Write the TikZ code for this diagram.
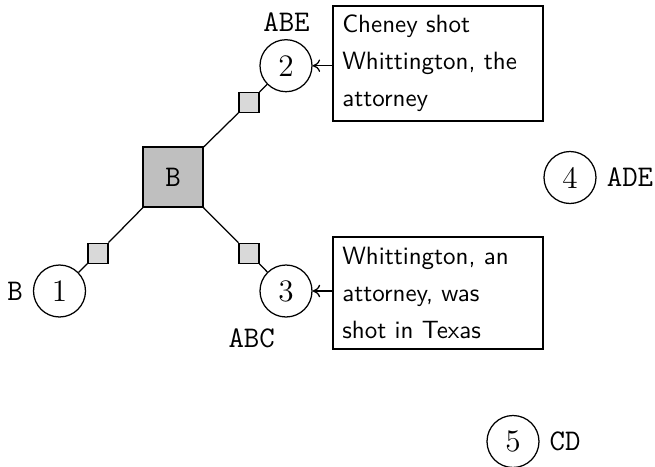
\documentclass[tikz,border=0pt]{standalone}
\usetikzlibrary{arrows.meta}
\begin{document}
\begin{tikzpicture}[x=0.4pt,y=-0.4pt,
  state/.style={circle,draw,line width=0.5pt,minimum size=20.8pt,inner sep=0pt,font=\rmfamily\fontsize{12.5}{14}\selectfont},
  factor/.style={rectangle,draw,line width=0.5pt,fill=black!25,minimum size=24pt,inner sep=0pt,font=\ttfamily\fontsize{12}{14}\selectfont},
  tick/.style={rectangle,draw,line width=0.5pt,fill=black!15,minimum size=8pt,inner sep=0pt},
  tag/.style={font=\ttfamily\fontsize{12}{14}\selectfont,inner sep=0pt},
  note/.style={rectangle,draw,line width=0.8pt,minimum width=84pt,minimum height=44.8pt,
    text width=76.6pt,align=left,inner sep=3.7pt,font=\sffamily,
    execute at begin node={\setlength{\baselineskip}{14.8pt}}},
  link/.style={line width=0.5pt},
  pointer/.style={line width=0.5pt,{To[length=3pt,width=5pt]}-}]
\useasboundingbox (0,0) rectangle (655,467);

% factor node and its attached states
\node[factor] (b) at (173,177) {B};
\node[tick] (t2) at (249,102.5) {};
\node[tick] (t1) at (98,253.3) {};
\node[tick] (t3) at (249,253.3) {};

\node[state] (c1) at (59.5,291) {1};
\node[state] (c2) at (286,65.7) {2};
\node[state] (c3) at (286,291) {3};
\node[state] (c4) at (570,177.5) {4};
\node[state] (c5) at (513,441.5) {5};

% state labels
\node[tag] (l1) at (15,291) {B};
\node[tag] (l2) at (286.5,21.7) {ABE};
\node[tag] (l3) at (251.7,338.3) {ABC};
\node[tag] (l4) at (630,177.5) {ADE};
\node[tag] (l5) at (565,441.5) {CD};

% sentences
\node[note] (n2) at (438,63.5) {Cheney shot\\Whittington, the\\attorney};
\node[note] (n3) at (438,292.5) {Whittington, an\\attorney, was\\shot in Texas};

% edges
\draw[link] (b) -- (t2) -- (c2);
\draw[link] (b) -- (t1) -- (c1);
\draw[link] (b) -- (t3) -- (c3);
\draw[pointer] (c2) -- (n2.west |- c2);
\draw[pointer] (c3) -- (n3.west |- c3);
\end{tikzpicture}
\end{document}
